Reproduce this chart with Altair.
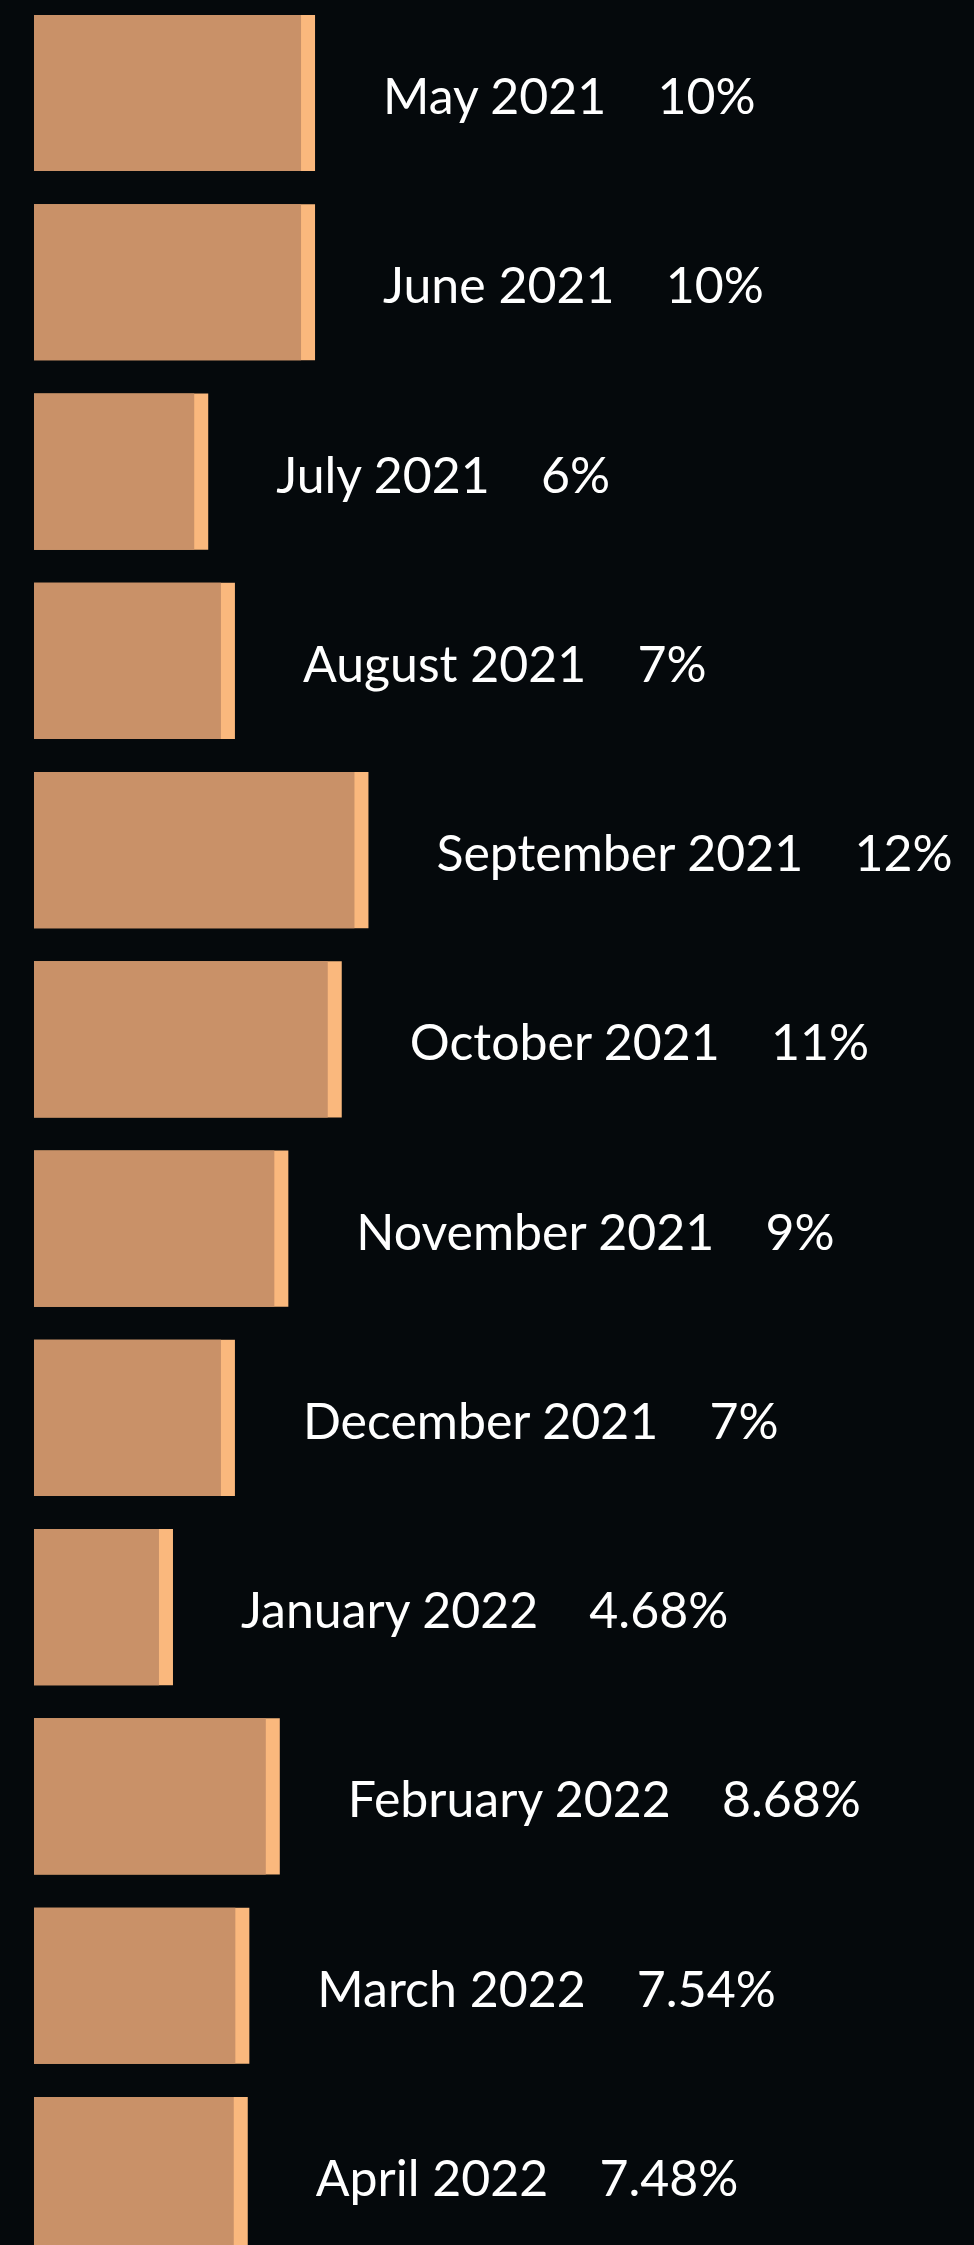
import altair as alt
import pandas as pd

months = ["May 2021", "June 2021", "July 2021", "August 2021", "September 2021",
          "October 2021", "November 2021", "December 2021", "January 2022",
          "February 2022", "March 2022", "April 2022"]
values = [10, 10, 6, 7, 12, 11, 9, 7, 4.68, 8.68, 7.54, 7.48]
value_labels = ["10%", "10%", "6%", "7%", "12%", "11%", "9%", "7%",
                "4.68%", "8.68%", "7.54%", "7.48%"]

SEP = "\u00a0" * 4
df = pd.DataFrame({
    "month": months,
    "value": values,
    "label": [m + SEP + p for m, p in zip(months, value_labels)],
})

xscale = alt.Scale(domain=[0, 35.2], zero=True, nice=False)
x = alt.X("value:Q", scale=xscale, axis=None)
y = alt.Y("month:N", sort=months, axis=None,
          scale=alt.Scale(paddingInner=0.175, paddingOuter=0.079))

base = alt.Chart(df)

strip = base.mark_bar(color="#FAB87D", x2Offset=14).encode(
    x=alt.X("zero:Q", scale=xscale, axis=None),
    x2="value:Q", y=y
).transform_calculate(zero="0")

main = base.mark_bar(color="#C99168").encode(x=x, y=y)

text = base.mark_text(align="left", baseline="middle", dx=82, dy=6,
                      font="Lato", fontSize=50, color="#FFFFFF").encode(
    x=x, y=y, text="label:N")

chart = alt.layer(strip, main, text).properties(
    width=940, height=2268,
    padding={"left": 34, "top": 0, "right": 0, "bottom": 0},
    autosize="none",
    background="#05090C",
).configure_view(stroke=None)

chart.save("out.html", embed_options={"renderer": "svg", "actions": False})
